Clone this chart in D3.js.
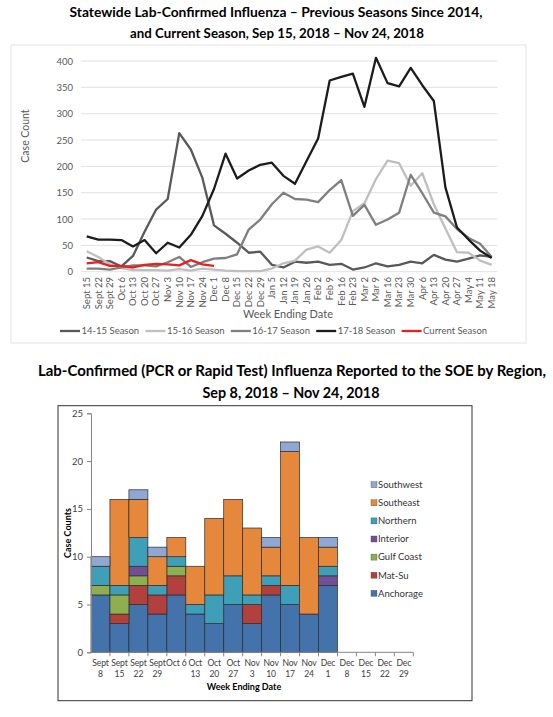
<!DOCTYPE html>
<html>
<head>
<meta charset="utf-8">
<script src="https://cdn.jsdelivr.net/npm/d3@7"></script>
<style>
  body { margin: 0; background: #fff; }
  svg { display: block; font-family: Lato, 'Open Sans', sans-serif; }
</style>
</head>
<body>
<svg id="chart" width="553" height="717"></svg>
<script>
// ---- top chart data ----
const weeks = ['Sept 15', 'Sept 22', 'Sept 29', 'Oct 6', 'Oct 13', 'Oct 20', 'Oct 27', 'Nov 3', 'Nov 10', 'Nov 17', 'Nov 24', 'Dec 1',
  'Dec 8', 'Dec 15', 'Dec 22', 'Dec 29', 'Jan 5', 'Jan 12', 'Jan 19', 'Jan 26', 'Feb 2', 'Feb 9', 'Feb 16', 'Feb 23',
  'Mar 2', 'Mar 9', 'Mar 16', 'Mar 23', 'Mar 30', 'Apr 6', 'Apr 13', 'Apr 20', 'Apr 27', 'May 4', 'May 11', 'May 18'];
const season1415 = [27, 20, 20, 10, 30, 76, 118, 138, 263, 232, 178, 88, 72, 55, 36, 38, 13, 8, 19, 17, 19, 13, 15, 4,
  8, 16, 10, 13, 19, 16, 32, 23, 19, 25, 31, 28];
const season1516 = [39, 28, 14, 7, 3, 3, 3, 2, 5, 2, 6, 4, 2, 1, 1, 1, 6, 16, 21, 42, 48, 36, 60, 115,
  130, 176, 211, 206, 163, 187, 128, 82, 37, 36, 21, 13];
const season1617 = [6, 6, 4, 8, 12, 12, 10, 18, 28, 9, 18, 25, 26, 33, 80, 99, 128, 150, 138, 137, 132, 155, 174, 106,
  127, 89, 99, 112, 184, 149, 112, 105, 81, 64, 53, 28];
const season1718 = [67, 61, 61, 60, 48, 60, 35, 55, 46, 70, 106, 157, 224, 177, 192, 203, 207, 182, 167, 210, 253, 363, 370, 376,
  313, 406, 358, 352, 387, 354, 324, 160, 84, 61, 40, 26];
const currentSeason = [16, 18, 11, 11, 8, 13, 15, 14, 12, 22, 14, 11];
const yTicksTop = [0, 50, 100, 150, 200, 250, 300, 350, 400];

// ---- bottom chart data ----
const regionWeeks = ['Sept|8', 'Sept|15', 'Sept|22', 'Sept|29', 'Oct 6', 'Oct|13', 'Oct|20', 'Oct|27', 'Nov|3', 'Nov|10',
  'Nov|17', 'Nov|24', 'Dec|1', 'Dec|8', 'Dec|15', 'Dec|22', 'Dec|29'];
const regions = ['Anchorage', 'Mat-Su', 'Gulf Coast', 'Interior', 'Northern', 'Southeast', 'Southwest'];
const anchorage = [6, 3, 5, 4, 6, 4, 3, 5, 3, 6, 5, 4, 7, 0, 0, 0, 0];
const matSu     = [0, 1, 2, 2, 2, 0, 0, 0, 2, 1, 0, 0, 0, 0, 0, 0, 0];
const gulfCoast = [1, 2, 1, 0, 1, 0, 0, 0, 0, 0, 0, 0, 0, 0, 0, 0, 0];
const interior  = [0, 0, 1, 0, 0, 0, 0, 0, 0, 0, 0, 0, 1, 0, 0, 0, 0];
const northern  = [2, 1, 3, 1, 1, 1, 3, 3, 1, 1, 2, 0, 1, 0, 0, 0, 0];
const southeast = [0, 9, 4, 3, 2, 4, 8, 8, 7, 3, 14, 8, 2, 0, 0, 0, 0];
const southwest = [1, 0, 1, 1, 0, 0, 0, 0, 0, 1, 1, 0, 1, 0, 0, 0, 0];
const yTicksBottom = [0, 5, 10, 15, 20, 25];

const svg = d3.select('#chart');

// ================= top chart =================
const plotTop = { left: 81, right: 497.4, y0: 271.7, y1: 61 };

svg.append('rect')
  .attr('x', 11).attr('y', 45).attr('width', 515).attr('height', 298)
  .attr('fill', 'none').attr('stroke', '#e3e3e3');

svg.append('text')
  .attr('x', 276).attr('y', 17)
  .attr('text-anchor', 'middle')
  .attr('font-weight', 'bold').attr('font-size', 14)
  .attr('textLength', 413).attr('lengthAdjust', 'spacingAndGlyphs')
  .text('Statewide Lab-Confirmed Influenza \u2013 Previous Seasons Since 2014,');
svg.append('text')
  .attr('x', 277).attr('y', 38)
  .attr('text-anchor', 'middle')
  .attr('font-weight', 'bold').attr('font-size', 14)
  .attr('textLength', 294).attr('lengthAdjust', 'spacingAndGlyphs')
  .text('and Current Season, Sep 15, 2018 \u2013 Nov 24, 2018');

const x = d3.scalePoint()
  .domain(weeks)
  .range([86.7, 491.7]);

const y = d3.scaleLinear()
  .domain([0, 400])
  .range([plotTop.y0, plotTop.y1]);

// gridlines
svg.append('g')
  .selectAll('line')
  .data(yTicksTop)
  .join('line')
  .attr('x1', plotTop.left).attr('x2', plotTop.right)
  .attr('y1', d => y(d)).attr('y2', d => y(d))
  .attr('stroke', '#d9d9d9').attr('stroke-width', 0.8);

// y axis labels
svg.append('g')
  .call(d3.axisLeft(y).tickValues(yTicksTop).tickSize(0).tickPadding(0))
  .attr('transform', 'translate(73,0)')
  .call(g => g.select('.domain').remove())
  .call(g => g.selectAll('text').attr('fill', '#595959').attr('font-size', 9.5).attr('font-family', 'Lato, sans-serif'));

svg.append('text')
  .attr('transform', 'translate(29,136) rotate(-90)')
  .attr('text-anchor', 'middle')
  .attr('font-size', 10.5).attr('fill', '#595959')
  .text('Case Count');

// x axis labels (rotated)
svg.append('g')
  .selectAll('text')
  .data(weeks)
  .join('text')
  .attr('transform', d => `translate(${x(d) + 3.3},277) rotate(-90)`)
  .attr('text-anchor', 'end')
  .attr('font-size', 9.5).attr('fill', '#595959')
  .text(d => d);

svg.append('text')
  .attr('x', 288).attr('y', 318)
  .attr('text-anchor', 'middle')
  .attr('font-size', 11).attr('fill', '#595959')
  .text('Week Ending Date');

const seasons = [
  { name: '14-15 Season', values: season1415, color: '#595959' },
  { name: '15-16 Season', values: season1516, color: '#bfbfbf' },
  { name: '16-17 Season', values: season1617, color: '#7f7f7f' },
  { name: '17-18 Season', values: season1718, color: '#1c1c1c' },
  { name: 'Current Season', values: currentSeason, color: '#e8201f' }
];

const line = d3.line()
  .x((d, i) => x(weeks[i]))
  .y(d => y(d));

svg.append('g')
  .selectAll('path')
  .data(seasons)
  .join('path')
  .attr('d', d => line(d.values))
  .attr('fill', 'none')
  .attr('stroke', d => d.color)
  .attr('stroke-width', 2.3)
  .attr('stroke-linejoin', 'round');

// legend
const legendTop = svg.append('g')
  .selectAll('g')
  .data(seasons)
  .join('g')
  .attr('transform', (d, i) => `translate(${60 + i * 85.4},331)`);
legendTop.append('line')
  .attr('x1', 0).attr('x2', 20)
  .attr('stroke', d => d.color).attr('stroke-width', 2.3);
legendTop.append('text')
  .attr('x', 21.5).attr('y', 3.3)
  .attr('font-size', 9.5).attr('fill', '#595959')
  .text(d => d.name);

// ================= bottom chart =================
svg.append('rect')
  .attr('x', 58).attr('y', 405.7).attr('width', 414).attr('height', 295)
  .attr('fill', 'none').attr('stroke', '#333').attr('stroke-width', 1);

svg.append('text')
  .attr('x', 292).attr('y', 375.5)
  .attr('text-anchor', 'middle')
  .attr('font-weight', 'bold').attr('font-size', 14.5)
  .attr('textLength', 508).attr('lengthAdjust', 'spacingAndGlyphs')
  .text('Lab-Confirmed (PCR or Rapid Test) Influenza Reported to the SOE by Region,');
svg.append('text')
  .attr('x', 291).attr('y', 397.5)
  .attr('text-anchor', 'middle')
  .attr('font-weight', 'bold').attr('font-size', 14.5)
  .attr('textLength', 177).attr('lengthAdjust', 'spacingAndGlyphs')
  .text('Sep 8, 2018 \u2013 Nov 24, 2018');

const regionColors = ['#4472ab', '#b2403d', '#8fae50', '#704f93', '#3f9fb8', '#e5883c', '#8fa8d3'];
const regionSeries = [anchorage, matSu, gulfCoast, interior, northern, southeast, southwest];

const table = regionWeeks.map((w, i) => {
  const row = { week: w };
  regions.forEach((r, k) => { row[r] = regionSeries[k][i]; });
  return row;
});

const xb = d3.scaleBand()
  .domain(regionWeeks)
  .range([91, 413.3])
  .padding(0);

const yb = d3.scaleLinear()
  .domain([0, 25])
  .range([652.3, 413.3]);

const stacked = d3.stack().keys(regions)(table);

svg.append('g')
  .selectAll('g')
  .data(stacked)
  .join('g')
  .attr('fill', (d, i) => regionColors[i])
  .selectAll('rect')
  .data(d => d.filter(p => p[1] > p[0]))
  .join('rect')
  .attr('x', d => xb(d.data.week))
  .attr('y', d => yb(d[1]))
  .attr('width', xb.bandwidth())
  .attr('height', d => yb(d[0]) - yb(d[1]))
  .attr('stroke', '#2b2b2b')
  .attr('stroke-width', 0.7);

// y axis
svg.append('g')
  .attr('transform', 'translate(91,0)')
  .call(d3.axisLeft(yb).tickValues(yTicksBottom).tickSize(4).tickPadding(4))
  .call(g => g.select('.domain').attr('stroke', '#868686'))
  .call(g => g.selectAll('line').attr('stroke', '#868686'))
  .call(g => g.selectAll('text').attr('fill', '#404040').attr('font-size', 9.5).attr('font-family', 'Lato, sans-serif'));

// x axis
const xAxis = svg.append('g')
  .attr('transform', 'translate(0,652.3)');
xAxis.append('line')
  .attr('x1', 91).attr('x2', 413.3)
  .attr('stroke', '#868686');
xAxis.selectAll('line.tick')
  .data(regionWeeks)
  .join('line')
  .attr('class', 'tick')
  .attr('x1', d => xb(d) + xb.bandwidth()).attr('x2', d => xb(d) + xb.bandwidth())
  .attr('y1', 0).attr('y2', 4)
  .attr('stroke', '#868686');
xAxis.selectAll('text')
  .data(regionWeeks)
  .join('text')
  .attr('x', d => xb(d) + xb.bandwidth() / 2)
  .attr('y', 14)
  .attr('text-anchor', 'middle')
  .attr('font-size', 8.6).attr('fill', '#404040')
  .attr('letter-spacing', -0.15)
  .selectAll('tspan')
  .data(d => d.split('|'))
  .join('tspan')
  .attr('x', function () { return this.parentNode.getAttribute('x'); })
  .attr('dy', (d, i) => i === 0 ? 0 : 11)
  .text(d => d);

svg.append('text')
  .attr('x', 244).attr('y', 690)
  .attr('text-anchor', 'middle')
  .attr('font-size', 9).attr('font-weight', 'bold')
  .text('Week Ending Date');

svg.append('text')
  .attr('transform', 'translate(71,533) rotate(-90)')
  .attr('text-anchor', 'middle')
  .attr('font-size', 9).attr('font-weight', 'bold')
  .text('Case Counts');

// legend (top entry is the last series)
const legendBottom = svg.append('g')
  .selectAll('g')
  .data(regions.slice().reverse())
  .join('g')
  .attr('transform', (d, i) => `translate(371,${484.7 + i * 18.1})`);
legendBottom.append('rect')
  .attr('x', 0).attr('y', -3)
  .attr('width', 6).attr('height', 6)
  .attr('fill', d => regionColors[regions.indexOf(d)])
  .attr('stroke', '#555').attr('stroke-width', 0.4);
legendBottom.append('text')
  .attr('x', 7).attr('y', 3.3)
  .attr('font-size', 9.5).attr('fill', '#333')
  .text(d => d);
</script>
</body>
</html>
